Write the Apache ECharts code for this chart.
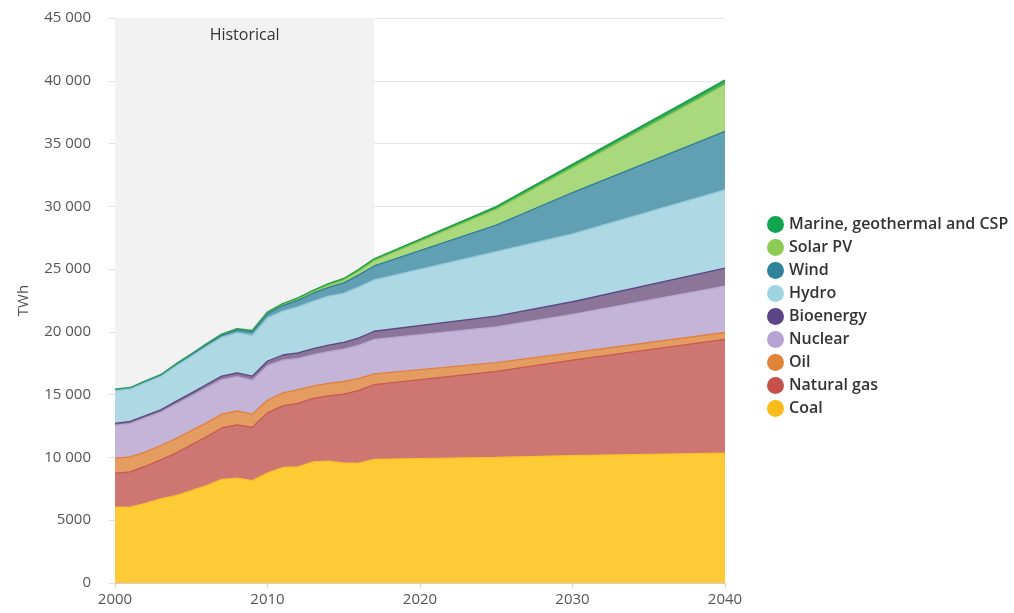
<!DOCTYPE html>
<html>
<head>
<meta charset="utf-8">
<script src="https://cdn.jsdelivr.net/npm/echarts@6/dist/echarts.min.js"></script>
<style>html,body{margin:0;padding:0;background:#fff}#c{width:1014px;height:613px}</style>
</head>
<body>
<div id="c"></div>
<script>
const years = [2000,2001,2002,2003,2004,2005,2006,2007,2008,2009,2010,2011,2012,2013,2014,2015,2016,2017,2025,2030,2040];
const coal    = [6050,6050,6350,6700,6950,7350,7750,8250,8350,8150,8750,9200,9250,9650,9700,9550,9550,9850,10000,10150,10350];
const gas     = [2700,2800,2950,3100,3400,3650,3900,4100,4250,4250,4800,4900,5050,5050,5200,5500,5800,5950,6850,7600,9050];
const oil     = [1200,1200,1150,1150,1150,1130,1100,1100,1100,1050,1000,1050,1100,1000,1000,1000,950,850,700,600,550];
const nuclear = [2600,2650,2700,2650,2750,2750,2800,2750,2730,2700,2760,2600,2480,2480,2530,2580,2650,2750,2850,3050,3700];
const bio     = [160,170,180,200,220,240,260,280,300,320,370,410,450,480,510,540,580,650,850,1000,1420];
const hydro   = [2620,2580,2640,2650,2810,2930,3030,3080,3210,3250,3430,3500,3660,3790,3900,3900,4050,4100,5150,5400,6250];
const wind    = [30,40,50,60,85,100,130,170,220,280,340,440,520,630,710,830,960,1100,2100,3300,4650];
const solar   = [1,2,2,3,3,4,6,8,12,20,32,63,98,136,190,250,330,450,1300,2000,3750];
const marine  = [55,55,55,55,58,58,60,62,64,66,69,71,73,75,78,82,90,100,150,220,320];

const names = ['Coal','Natural gas','Oil','Nuclear','Bioenergy','Hydro','Wind','Solar PV','Marine, geothermal and CSP'];
const values = [coal,gas,oil,nuclear,bio,hydro,wind,solar,marine];
const legendColors = ['#F9BB1A','#C5504C','#E0843A','#B5A3D2','#5A4587','#9ED3E0','#2F8299','#8DCB55','#10A650'];
const fillColors   = ['#FDCB36','#CD7672','#E59C60','#C4B4D7','#8B7699','#ADD8E4','#619FB3','#A9D97C','#3DB060'];
const lineColors   = ['#FBC02D','#C65954','#E08040','#B7A6CE','#5B4686','#93C9D6','#2E7E96','#7CC24A','#1FA04A'];

// running totals (each area drawn from the axis, upper layers first)
const cumul = [];
values.forEach((arr,i)=>{
  cumul.push(arr.map((v,k)=> v + (i>0 ? cumul[i-1][k] : 0)));
});

const series = [{
  type:'line', data:[], z:0, silent:true,
  markArea:{
    silent:true,
    itemStyle:{color:'#F2F2F2'},
    label:{show:true,position:'insideTop',distance:9,color:'#333',fontSize:16,fontFamily:'Open Sans'},
    data:[[{name:'Historical',xAxis:2000},{xAxis:2017}]]
  }
}];
for (let i = names.length-1; i >= 0; i--) {
  series.push({
    name:names[i], type:'line', z:2,
    showSymbol:false, symbol:'none',
    data: years.map((y,k)=>[y,cumul[i][k]]),
    itemStyle:{color:legendColors[i]},
    lineStyle:{color:lineColors[i],width: i===8?2:1.3},
    areaStyle:{color:fillColors[i],opacity:1}
  });
}

const fmt = v => v>=10000 ? String(v).replace(/(\d+)(\d{3})$/,'$1 $2') : String(v);

const chart = echarts.init(document.getElementById('c'),null,{renderer:'canvas'});
chart.setOption({
  animation:false,
  backgroundColor:'#fff',
  textStyle:{fontFamily:'Open Sans'},
  grid:{left:115,right:289,top:18,bottom:30},
  legend:{
    orient:'vertical', left:762, top:211, icon:'circle',
    itemWidth:17, itemHeight:17, itemGap:6,
    data: names.slice().reverse(),
    textStyle:{color:'#333',fontSize:16,fontWeight:600,fontFamily:'Open Sans'}
  },
  xAxis:{
    type:'value', min:2000, max:2040, interval:10,
    axisLine:{show:true,lineStyle:{color:'#D0D0D0'}},
    axisTick:{show:true,length:5,lineStyle:{color:'#D0D0D0'}},
    axisLabel:{color:'#555',fontSize:15,margin:9,formatter:v=>String(v)},
    splitLine:{show:false}
  },
  yAxis:{
    type:'value', min:0, max:45000, interval:5000,
    name:'TWh', nameLocation:'middle', nameGap:84, nameRotate:90,
    nameTextStyle:{color:'#555',fontSize:15},
    axisLine:{show:true,lineStyle:{color:'#E6E6E6'}},
    axisTick:{show:true,length:6,lineStyle:{color:'#E0E0E0'}},
    axisLabel:{color:'#555',fontSize:15,margin:24,formatter:fmt},
    splitLine:{show:true,lineStyle:{color:'#E6E6E6'}}
  },
  series: series
});
</script>
</body>
</html>
